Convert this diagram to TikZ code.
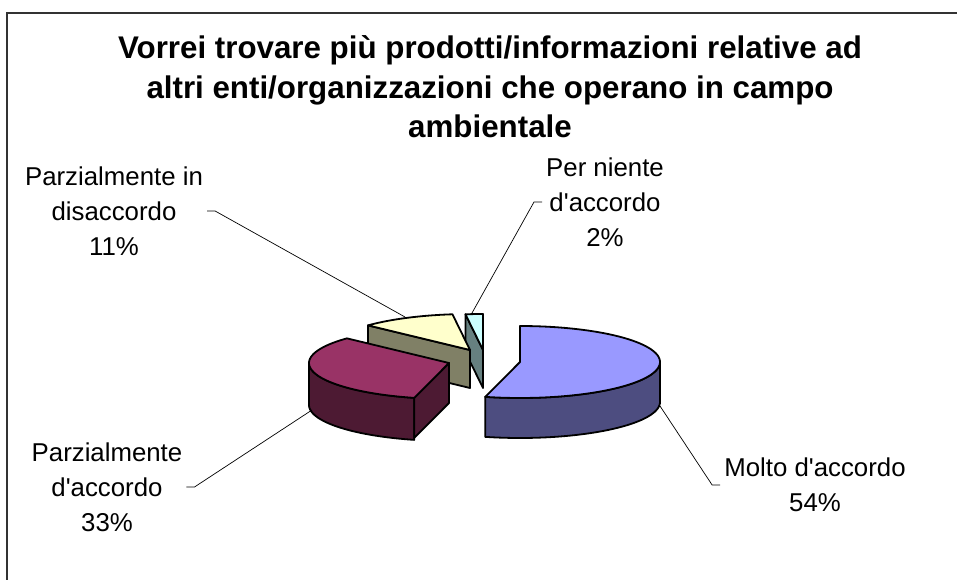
\documentclass[tikz,border=0pt]{standalone}
\usepackage{fontspec}
\setmainfont{Liberation Sans}[Ligatures=TeXOff]
\usetikzlibrary{calc,positioning}

\definecolor{moltoTop}{HTML}{9999FF}
\definecolor{moltoSide}{HTML}{4D4D80}
\definecolor{parzTop}{HTML}{993366}
\definecolor{parzSide}{HTML}{4D1A33}
\definecolor{disTop}{HTML}{FFFFCC}
\definecolor{disSide}{HTML}{808066}
\definecolor{nienteTop}{HTML}{CCFFFF}
\definecolor{nienteSide}{HTML}{668080}

\begin{document}
\begin{tikzpicture}[
  x=1pt, y=-1pt,
  face/.style={draw=black, line width=1.8pt, line join=round},
  lbl/.style={font=\fontsize{25.8}{35}\selectfont, align=center, inner sep=2pt},
  ttl/.style={font=\fontsize{31.3}{39.5}\selectfont\bfseries, align=center},
  leader/.style={black, line width=0.7pt},
  frame/.style={draw=black!80, line width=2.2pt},
  declare function={ex(\t)=140*sin(\t); ey(\t)=-36*cos(\t);}
]
\useasboundingbox (0,0) rectangle (957,580);

% Chart frame (only top and left edges fall inside the picture)
\draw[frame] (7,580) -- (7,13) -- (957,13);

% Title
\node[ttl] (title) at (490,87) {Vorrei trovare più prodotti/informazioni relative ad\\altri enti/organizzazioni che operano in campo\\ambientale};

% Per niente d'accordo 2% (back)
\draw[face, fill=nienteSide] (483,350) -- ({483+ex(352.8)},{350+ey(352.8)}) -- ++(0,38) -- (483,388) -- cycle;
\draw[face, fill=nienteTop] (483,350) -- plot[domain=352.8:360, samples=5] ({483+ex(\x)},{350+ey(\x)}) -- cycle;

% Parzialmente in disaccordo 11%
\draw[face, fill=disSide] (470,350) -- ({470+ex(313.2)},{350+ey(313.2)}) -- ++(0,38) -- (470,388) -- cycle;
\draw[face, fill=disTop] (470,350) -- plot[domain=313.2:352.8, samples=20] ({470+ex(\x)},{350+ey(\x)}) -- cycle;

% Parzialmente d'accordo 33%
\draw[face, fill=parzSide] plot[domain=194.4:270, samples=40] ({449+ex(\x)},{363+ey(\x)}) -- plot[domain=270:194.4, samples=40] ({449+ex(\x)},{405+ey(\x)}) -- cycle;
\draw[face, fill=parzSide] (449,363) -- ({449+ex(194.4)},{363+ey(194.4)}) -- ++(0,40) -- (449,403) -- cycle;
\draw[face, fill=parzTop] (449,363) -- plot[domain=194.4:313.2, samples=50] ({449+ex(\x)},{363+ey(\x)}) -- cycle;

% Molto d'accordo 54%
\draw[face, fill=moltoSide] plot[domain=90:194.4, samples=40] ({520+ex(\x)},{362+ey(\x)}) -- plot[domain=194.4:90, samples=40] ({520+ex(\x)},{402+ey(\x)}) -- cycle;
\draw[face, fill=moltoTop] (520,362) -- plot[domain=0:194.4, samples=70] ({520+ex(\x)},{362+ey(\x)}) -- cycle;

% Labels
\node[lbl] (dis) at (114,211) {Parzialmente in\\disaccordo\\11\%};
\node[lbl] (niente) at (605,202) {Per niente\\d'accordo\\2\%};
\node[lbl] (parz) at (107,487) {Parzialmente\\d'accordo\\33\%};
\node[lbl] (molto) at (815,485) {Molto d'accordo\\54\%};

% Leader ends on the slices
\coordinate (disEnd) at (405,317);
\coordinate (nienteEnd) at (472,313);
\coordinate (parzEnd) at (312,410);
\coordinate (moltoEnd) at (660,406);

% Leader lines
\draw[leader] (dis.east) ++(2,0) -- ++(8,0) -- (disEnd);
\draw[leader] (niente.west) ++(-2,0) -- ++(-8,0) -- (nienteEnd);
\draw[leader] (parz.east) ++(2,0) -- ++(8,0) -- (parzEnd);
\draw[leader] (molto.west) ++(-2,0) -- ++(-8,0) -- (moltoEnd);

\end{tikzpicture}
\end{document}
